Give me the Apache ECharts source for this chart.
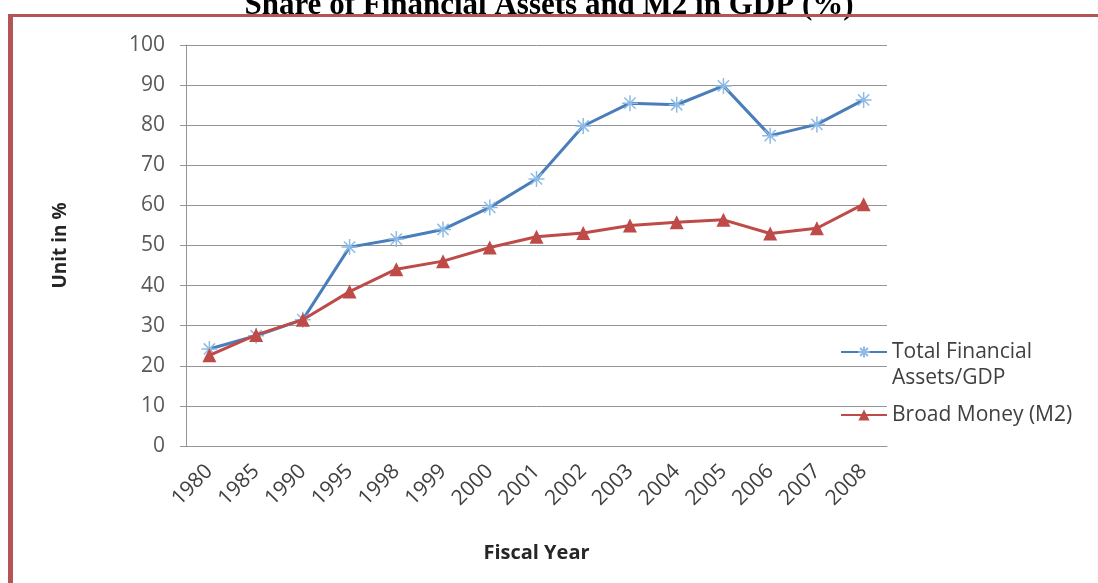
<!DOCTYPE html>
<html>
<head>
<meta charset="utf-8">
<script src="https://cdn.jsdelivr.net/npm/echarts@6/dist/echarts.min.js"></script>
<style>
  html, body { margin: 0; padding: 0; background: #ffffff; }
  #chart { width: 1098px; height: 583px; }
</style>
</head>
<body>
<div id="chart"></div>
<script>
// Fiscal years on the category axis
const years = ['1980', '1985', '1990', '1995', '1998', '1999', '2000', '2001',
               '2002', '2003', '2004', '2005', '2006', '2007', '2008'];

// Total financial assets as a share of GDP (%)
const financialAssets = [24.2, 27.5, 31.5, 49.6, 51.6, 54.0, 59.5, 66.6,
                         79.8, 85.5, 85.1, 89.8, 77.4, 80.2, 86.3];

// Broad money (M2) as a share of GDP (%)
const broadMoney = [22.6, 27.7, 31.5, 38.5, 44.1, 46.1, 49.5, 52.2,
                    53.1, 55.0, 55.8, 56.4, 53.0, 54.3, 60.3];

// Value-axis ticks
const yTicks = { min: 0, max: 100, interval: 10 };

const seriesNames = ['Total Financial Assets/GDP', 'Broad Money (M2)'];

const uiFont = '"Open Sans", "DejaVu Sans", sans-serif';
const blue = '#4a7ebb';
const paleBlue = '#8dbbe6';
const red = '#be4b48';
const grey = '#949494';

// asterisk marker drawn as stroked strokes
const asterisk = 'path://M0,5L10,5M5,0L5,10M1.5,1.5L8.5,8.5M8.5,1.5L1.5,8.5';

const chart = echarts.init(document.getElementById('chart'), null, { renderer: 'canvas' });

chart.setOption({
  backgroundColor: '#ffffff',
  animation: false,
  title: {
    text: 'Share of Financial Assets and M2 in GDP (%)',
    left: 'center',
    top: -15,
    textStyle: {
      fontFamily: '"Liberation Serif", "Times New Roman", serif',
      fontWeight: 'bold',
      fontSize: 31,
      color: '#000000'
    }
  },
  graphic: [
    { type: 'rect', shape: { x: 8, y: 14, width: 1090, height: 3 }, style: { fill: '#b35557' }, z: 10 },
    { type: 'rect', shape: { x: 8, y: 14, width: 5, height: 569 }, style: { fill: '#b35557' }, z: 10 }
  ],
  grid: { left: 186, right: 211, top: 45, bottom: 137 },
  legend: [
    {
      data: [seriesNames[0]],
      orient: 'vertical',
      left: 840,
      top: 313,
      padding: 0,
      itemWidth: 46,
      itemHeight: 14,
      // leading empty line keeps the first text line level with the icon
      formatter: () => '\nTotal Financial\nAssets/GDP',
      textStyle: { fontFamily: uiFont, fontSize: 21, color: '#404040', lineHeight: 26 }
    },
    {
      data: [seriesNames[1]],
      orient: 'vertical',
      left: 840,
      top: 402,
      padding: 0,
      itemWidth: 46,
      itemHeight: 14,
      textStyle: { fontFamily: uiFont, fontSize: 21, color: '#404040', lineHeight: 26 }
    }
  ],
  xAxis: {
    type: 'category',
    data: years,
    boundaryGap: true,
    name: 'Fiscal Year',
    nameLocation: 'middle',
    nameGap: 97,
    nameTextStyle: { fontFamily: uiFont, fontWeight: 'bold', fontSize: 20, color: '#262626' },
    axisLine: { show: true, lineStyle: { color: grey, width: 1 } },
    axisTick: { show: false },
    axisLabel: { rotate: 45, margin: 22, fontFamily: uiFont, fontSize: 21, color: '#404040' },
    splitLine: { show: false }
  },
  yAxis: {
    type: 'value',
    min: yTicks.min,
    max: yTicks.max,
    interval: yTicks.interval,
    name: 'Unit in %',
    nameLocation: 'middle',
    nameRotate: 90,
    nameGap: 116,
    nameTextStyle: { fontFamily: uiFont, fontWeight: 'bold', fontSize: 19, color: '#262626' },
    axisLine: { show: true, lineStyle: { color: grey, width: 1 } },
    axisTick: { show: true, inside: false, length: 6, lineStyle: { color: grey } },
    axisLabel: { margin: 21, fontFamily: uiFont, fontSize: 21, color: '#595959' },
    splitLine: { show: true, lineStyle: { color: grey, width: 1 } }
  },
  series: [
    {
      name: seriesNames[0],
      type: 'line',
      data: financialAssets,
      symbol: asterisk,
      symbolSize: 16,
      lineStyle: { color: blue, width: 3 },
      itemStyle: { color: 'rgba(0,0,0,0)', borderColor: paleBlue, borderWidth: 1.5 },
      z: 3
    },
    {
      name: seriesNames[1],
      type: 'line',
      data: broadMoney,
      symbol: 'triangle',
      symbolSize: 14,
      lineStyle: { color: red, width: 3 },
      itemStyle: { color: red },
      z: 4
    }
  ]
});
</script>
</body>
</html>
